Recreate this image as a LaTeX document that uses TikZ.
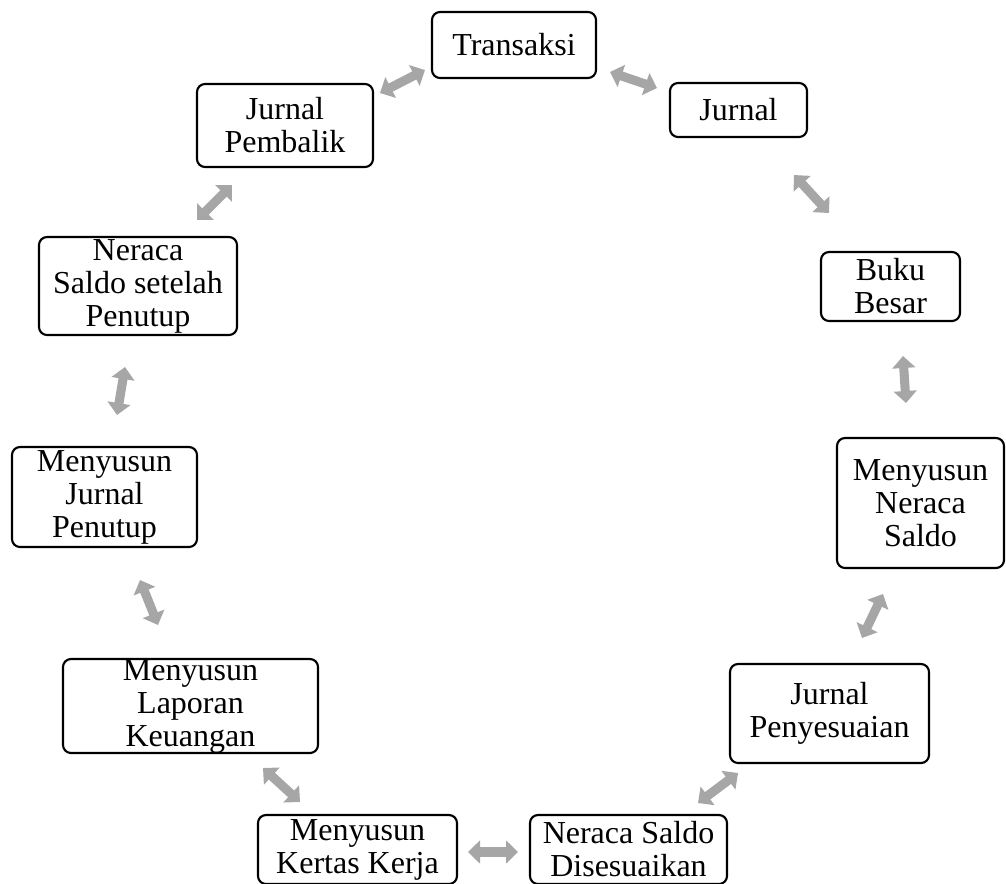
\documentclass[tikz,border=0pt]{standalone}
\usepackage{fontspec}
\setmainfont{Liberation Serif}
\usepackage{tikz}
\usetikzlibrary{arrows.meta}

\begin{document}
\begin{tikzpicture}[x=0.75pt,y=-0.75pt,
    stage/.style={draw,line width=1.6pt,rounded corners=6pt,inner sep=0pt,align=center,
      font=\fontsize{24}{24.75}\selectfont},
    link/.style={line width=6.8pt,draw=black!35,
      {Triangle[length=9pt,width=17pt]}-{Triangle[length=9pt,width=17pt]}}]
  \useasboundingbox (0,0) rectangle (1006,883);
  % stages of the cycle, clockwise from the top
  \node[stage,minimum width=123pt,minimum height=49.5pt] (trans) at (514,45) {Transaksi};
  \node[stage,minimum width=102.75pt,minimum height=40.5pt] (jurnal) at (738.5,110) {Jurnal};
  \node[stage,minimum width=104.25pt,minimum height=51.75pt] (buku) at (890.5,286.5) {Buku\\Besar};
  \node[stage,minimum width=125.25pt,minimum height=97.5pt] (nsaldo) at (920.5,503) {Menyusun\\Neraca\\Saldo};
  \node[stage,minimum width=149.25pt,minimum height=74.25pt] (jpeny) at (829.5,713.5) {Jurnal\\Penyesuaian};
  \node[stage,minimum width=147.75pt,minimum height=51.75pt] (nsdis) at (628.5,849.5) {Neraca Saldo\\Disesuaikan};
  \node[stage,minimum width=149.25pt,minimum height=51.75pt] (kertas) at (357.5,849.5) {Menyusun\\Kertas Kerja};
  \node[stage,minimum width=191.25pt,minimum height=70.5pt] (lapor) at (190.5,706) {Menyusun\\Laporan\\Keuangan};
  \node[stage,minimum width=138.75pt,minimum height=75pt] (jtutup) at (104.5,497) {Menyusun\\Jurnal\\Penutup};
  \node[stage,minimum width=148.5pt,minimum height=73.5pt] (nstutup) at (138,286) {Neraca\\Saldo setelah\\Penutup};
  \node[stage,minimum width=132pt,minimum height=62.25pt] (jbalik) at (285,125.5) {Jurnal\\Pembalik};

  % ends of the grey double arrows
  \coordinate (l1a) at (610,72);  \coordinate (l1b) at (657,88);
  \coordinate (l2a) at (794,175); \coordinate (l2b) at (829,213);
  \coordinate (l3a) at (903,356); \coordinate (l3b) at (906,403);
  \coordinate (l4a) at (883,594); \coordinate (l4b) at (862,638);
  \coordinate (l5a) at (738,773); \coordinate (l5b) at (698,803);
  \coordinate (l6a) at (518,852); \coordinate (l6b) at (468,852);
  \coordinate (l7a) at (300,802); \coordinate (l7b) at (263,768);
  \coordinate (l8a) at (158,625); \coordinate (l8b) at (140,580);
  \coordinate (l9a) at (117,415); \coordinate (l9b) at (125,367);
  \coordinate (l10a) at (197,220); \coordinate (l10b) at (232,185);
  \coordinate (l11a) at (380,93); \coordinate (l11b) at (425,70);
  \foreach \i in {1,...,11}
    \draw[link] (l\i a) -- (l\i b);
\end{tikzpicture}
\end{document}
